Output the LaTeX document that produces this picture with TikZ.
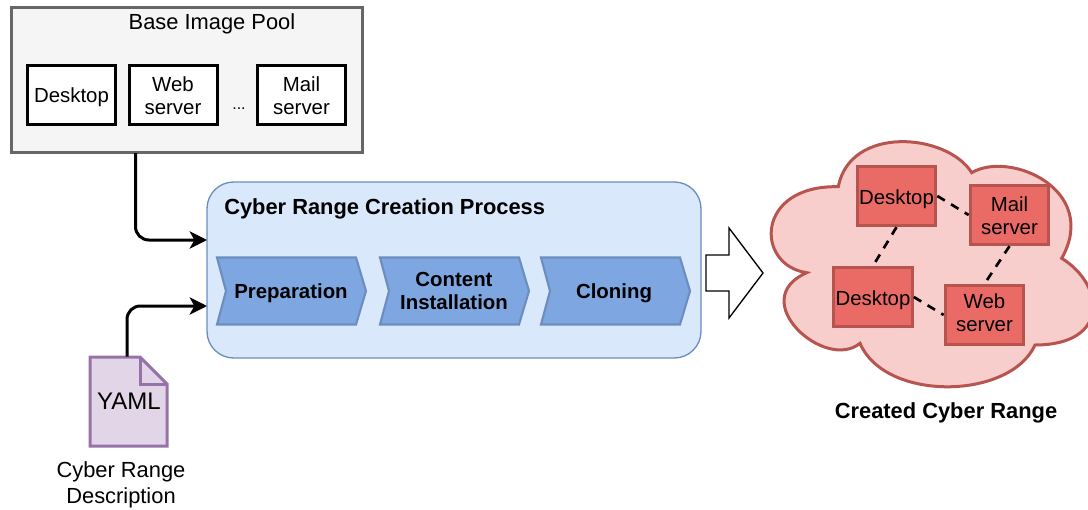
\documentclass[tikz,border=0pt]{standalone}
\usepackage{fontspec}
\setmainfont{Liberation Sans}
\usetikzlibrary{arrows.meta}
\usetikzlibrary{positioning}

\newcommand{\downstrut}{\rule{0pt}{12.5pt}}
\newcommand{\upstrut}{\rule[-3pt]{0pt}{3pt}}

\tikzset{
	smalltext/.style={font=\fontsize{15.3}{17.25}\selectfont,align=center},
	bigtext/.style={font=\fontsize{16.4}{19.5}\selectfont,align=center},
	boldtext/.style={font=\fontsize{16.4}{17.25}\selectfont\bfseries,align=center},
	steptext/.style={font=\fontsize{15.3}{17.25}\selectfont\bfseries,align=center},
	lower/.style={text height=11.2pt+#1*1.5pt},
	imagebox/.style={draw=black,line width=2.25pt,fill=white,minimum width=66pt,minimum height=43.5pt,inner sep=0pt,smalltext},
	rangebox/.style={draw=cloudline,line width=2.25pt,fill=cloudbox,minimum width=59pt,minimum height=44.5pt,inner sep=0pt,smalltext},
	stepshape/.style={draw=mainline,line width=1.6pt,fill=stepfill,line join=miter},
	flow/.style={line width=2.25pt,rounded corners=10pt,-{Stealth[length=13pt,width=13pt,inset=3.5pt]}},
	netlink/.style={line width=2pt,dash pattern=on 6.5pt off 5.5pt},
}
\definecolor{poolline}{HTML}{666666}
\definecolor{poolfill}{HTML}{F5F5F5}
\definecolor{mainline}{HTML}{6C8EBF}
\definecolor{mainfill}{HTML}{DAE8FC}
\definecolor{stepfill}{HTML}{7EA6E0}
\definecolor{cloudline}{HTML}{B85450}
\definecolor{cloudfill}{HTML}{F8CECC}
\definecolor{cloudbox}{HTML}{EA6B66}
\definecolor{docline}{HTML}{9673A6}
\definecolor{docfill}{HTML}{E1D5E7}

\begin{document}
\begin{tikzpicture}[x=0.75pt,y=-0.75pt]
	\useasboundingbox (0,0) rectangle (1088,510);

	% Base images:
	\node [draw=poolline,fill=poolfill,line width=2.25pt,minimum width=263pt,minimum height=108.5pt,inner sep=0pt] (pool) at (187,80) {};
	\node [bigtext] (pooltitle) at (212,24) {Base Image Pool};
	\node [imagebox,lower=2] (imgdesktop) at (71.5,95) {Desktop};
	\node [imagebox] (imgweb) at (173,95) {Web\downstrut\\server};
	\node [imagebox] (imgmail) at (301.5,95) {Mail\downstrut\\server};
	\node [font=\fontsize{12}{13}\selectfont] (imgdots) at (239,109) {...};

	% Creation process:
	\node [draw=mainline,fill=mainfill,line width=1pt,rounded corners=20pt,minimum width=370.5pt,minimum height=132pt,inner sep=0pt] (main) at (454,270) {};
	\node [boldtext,anchor=west,inner sep=0pt] (maintitle) at (224,209) {Cyber Range Creation Process};

	% Steps:
	% All three have the same outline, only the left edge moves
	\foreach \x/\name/\cx/\cy/\txt in {217/prep/291/293/Preparation,380/content/454/291/{Content\\Installation},541/clone/614/293/Cloning}{%
		\draw [stepshape] (\x,257.5) -- (\x+139,257.5) -- (\x+149,291) -- (\x+139,324.5) -- (\x,324.5) -- (\x+9,291) -- cycle;
		\node [steptext] (\name) at (\cx,\cy) {\txt};
	}

	% Description file:
	\draw [draw=docline,fill=docfill,line width=2.25pt,line join=miter] (90,357) -- (140,357) -- (167,384) -- (167,446) -- (90,446) -- cycle;
	\draw [draw=docline,line width=2.25pt] (140,357) -- (140,384) -- (167,384);
	\node [font=\fontsize{18}{20}\selectfont,text height=15pt,minimum width=57pt,minimum height=63pt,inner sep=0pt] (yaml) at (127,399) {\hspace{3pt}YAML};
	\node [bigtext] (yamlname) at (121,485) {Cyber Range\\Description};

	% Inputs:
	\coordinate (poolout) at (135.5,153);
	\coordinate (mainin) at (207,240);
	\coordinate (yamlin) at (207,306);
	\draw [flow] (poolout) |- (mainin);
	\draw [flow] (yaml.north) |- (yamlin);

	% Result arrow:
	\draw [line width=1pt,fill=white,line join=miter] (706,255) -- (729,255) -- (729,228) -- (763,273) -- (729,318) -- (729,291) -- (706,291) -- cycle;

	% Cloud:
	\draw [draw=cloudline,fill=cloudfill,line width=2.25pt,line join=miter] (838.3,186.7)
		.. controls (850,125) and (947,133) .. (971.7,172.7)
		.. controls (1010,150) and (1100,190) .. (1061.7,258.3)
		.. controls (1105,285) and (1110,345) .. (1035,345)
		.. controls (1010,400) and (885,402) .. (860,343.3)
		.. controls (825,372) and (745,300) .. (806.7,272.7)
		.. controls (755,265) and (755,185) .. (838.3,186.7) -- cycle;
	\node [rangebox,lower=3] (desktopa) at (896.5,196) {Desktop};
	\node [rangebox] (mail) at (1009.5,215) {Mail\downstrut\\server};
	\node [rangebox,lower=3] (desktopb) at (873,297) {Desktop};
	\node [rangebox] (web) at (984.5,315) {Web\\server\upstrut};
	\draw [netlink] (desktopa.east) -- (mail.west);
	\draw [netlink] (desktopa.south) -- (desktopb.north);
	\draw [netlink] (mail.south) -- (web.north);
	\draw [netlink] (desktopb.east) -- (web.west);
	\node [boldtext] (cloudname) at (946,413) {Created Cyber Range};
\end{tikzpicture}
\end{document}
